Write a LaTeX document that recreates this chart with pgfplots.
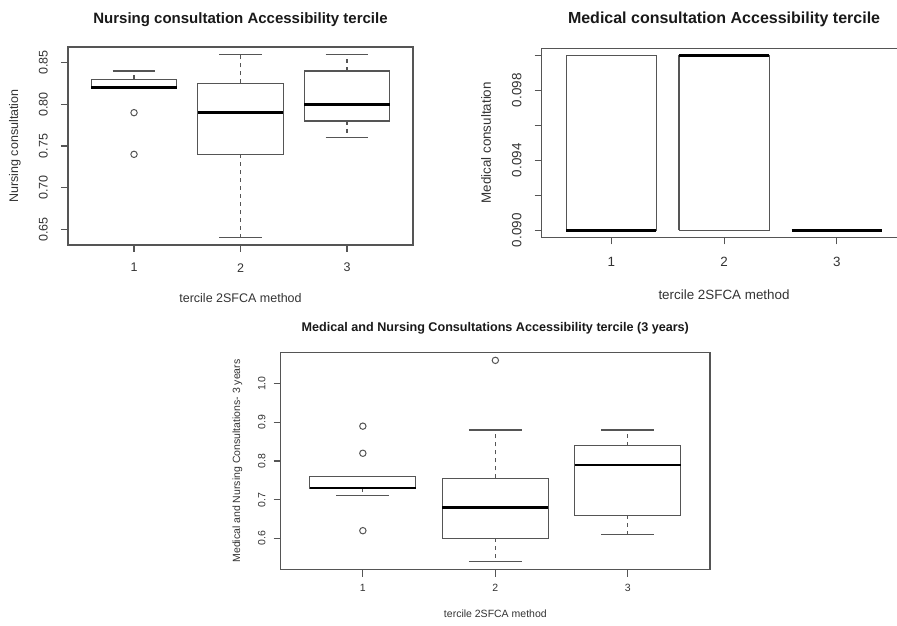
\documentclass[border=0pt]{standalone}
\usepackage{fontspec}
\setmainfont{Liberation Sans}
\usepackage{pgfplots}
\pgfplotsset{compat=1.18}
\usepgfplotslibrary{statistics}

\definecolor{boxgray}{HTML}{555555}
\definecolor{txtgray}{HTML}{333333}

\pgfplotsset{
  rbox/.style={
    scale only axis, anchor=south west,
    xmin=0.38, xmax=3.62, xtick={1,2,3}, xticklabels={1,2,3},
    tick pos=left, tick align=outside, major tick length=7pt,
    axis line style={boxgray, line width=1.1pt},
    tick style={boxgray, line width=1.1pt},
    xticklabel style={anchor=center, inner sep=0pt, text=txtgray},
    yticklabel style={rotate=90, anchor=center, inner sep=0pt, text=txtgray},
    title style={anchor=center, text=black!90},
    xlabel style={anchor=center, text=txtgray},
    ylabel style={anchor=center, text=txtgray},
    boxplot/draw direction=y,
    boxplot/box extend=0.8,
    boxplot/whisker extend=0.4,
    boxplot/every box/.style={draw=boxgray, line width=1.1pt},
    boxplot/every median/.style={draw=black, line width=2.6pt},
    boxplot/draw/lower whisker/.code={%
      \draw[boxgray, line width=1.1pt, dash pattern=on 4pt off 4pt]
        (boxplot box cs:\pgfplotsboxplotvalue{lower quartile},0.5) --
        (boxplot box cs:\pgfplotsboxplotvalue{lower whisker},0.5);
      \draw[boxgray, line width=1.1pt]
        (boxplot whisker cs:\pgfplotsboxplotvalue{lower whisker},0) --
        (boxplot whisker cs:\pgfplotsboxplotvalue{lower whisker},1);
    },
    boxplot/draw/upper whisker/.code={%
      \draw[boxgray, line width=1.1pt, dash pattern=on 4pt off 4pt]
        (boxplot box cs:\pgfplotsboxplotvalue{upper quartile},0.5) --
        (boxplot box cs:\pgfplotsboxplotvalue{upper whisker},0.5);
      \draw[boxgray, line width=1.1pt]
        (boxplot whisker cs:\pgfplotsboxplotvalue{upper whisker},0) --
        (boxplot whisker cs:\pgfplotsboxplotvalue{upper whisker},1);
    },
  },
  rplot/.style={boxgray, mark=o, mark size=3.2pt, mark options={line width=1pt, draw=boxgray}},
  rline/.style={boxgray, line width=1.1pt, mark=none},
  rmed/.style={black, line width=2.6pt, mark=none},
}

\begin{document}
\begin{tikzpicture}

% nursing consultation
\begin{axis}[rbox,
  at={(68pt,381pt)}, width=345pt, height=198pt,
  ymin=0.6312, ymax=0.8688,
  ytick={0.65,0.70,0.75,0.80,0.85},
  yticklabels={0.65,0.70,0.75,0.80,0.85},
  font=\fontsize{12.5}{15}\selectfont,
  xticklabel style={yshift=-15.7pt},
  yticklabel style={yshift=17.7pt},
  title={Nursing consultation Accessibility tercile},
  title style={at={([yshift=21pt]axis description cs:0.5,1)}, font=\bfseries\fontsize{15}{18}\selectfont},
  xlabel={tercile 2SFCA method},
  xlabel style={at={([yshift=-53pt]axis description cs:0.5,0)}},
  ylabel={Nursing consultation},
  ylabel style={at={([xshift=-53pt]axis description cs:0,0.5)}},
]
\addplot[rplot, boxplot prepared={draw position=1, lower whisker=0.82, lower quartile=0.82,
  median=0.82, upper quartile=0.83, upper whisker=0.84}] coordinates {(1,0.79) (1,0.74)};
\addplot[rplot, boxplot prepared={draw position=2, lower whisker=0.64, lower quartile=0.74,
  median=0.79, upper quartile=0.825, upper whisker=0.86}] coordinates {};
\addplot[rplot, boxplot prepared={draw position=3, lower whisker=0.76, lower quartile=0.78,
  median=0.80, upper quartile=0.84, upper whisker=0.86}] coordinates {};
\end{axis}

% medical consultation: every tercile is either 0.090 or 0.100
\begin{axis}[rbox,
  at={(541.5pt,388.7pt)}, width=365.1pt, height=189pt,
  ymin=0.0896, ymax=0.1004,
  ytick={0.090,0.092,0.094,0.096,0.098,0.100},
  yticklabels={0.090,,0.094,,0.098,},
  font=\fontsize{13.4}{16}\selectfont,
  xticklabel style={yshift=-17.4pt},
  yticklabel style={yshift=17.8pt},
  title={Medical consultation Accessibility tercile},
  title style={at={([yshift=22.9pt]axis description cs:0.5,1)}, font=\bfseries\fontsize{16}{19}\selectfont},
  xlabel={tercile 2SFCA method},
  xlabel style={at={([yshift=-57pt]axis description cs:0.5,0)}},
  ylabel={Medical consultation},
  ylabel style={at={([xshift=-55.5pt]axis description cs:0,0.5)}},
]
% tercile 1: box 0.090-0.100, median 0.090
\addplot[rline] coordinates {(0.6,0.090) (1.4,0.090) (1.4,0.100) (0.6,0.100) (0.6,0.090)};
\addplot[rmed] coordinates {(0.6,0.090) (1.4,0.090)};
% tercile 2: box 0.090-0.100, median 0.100
\addplot[rline] coordinates {(1.6,0.090) (2.4,0.090) (2.4,0.100) (1.6,0.100) (1.6,0.090)};
\addplot[rmed] coordinates {(1.6,0.100) (2.4,0.100)};
% tercile 3: all 0.090
\addplot[rmed] coordinates {(2.6,0.090) (3.4,0.090)};
\end{axis}

% both, 3 years
\begin{axis}[rbox,
  at={(280.7pt,56.3pt)}, width=429.3pt, height=217.4pt,
  ymin=0.5192, ymax=1.0808,
  ytick={0.6,0.7,0.8,0.9,1.0},
  yticklabels={0.6,0.7,0.8,0.9,1.0},
  font=\fontsize{10.5}{13}\selectfont,
  xticklabel style={yshift=-11.6pt},
  yticklabel style={yshift=12pt},
  title={Medical and Nursing Consultations Accessibility tercile (3 years)},
  title style={at={([yshift=17.9pt]axis description cs:0.5,1)}, font=\bfseries\fontsize{12.6}{15}\selectfont},
  xlabel={tercile 2SFCA method},
  xlabel style={at={([yshift=-44.3pt]axis description cs:0.5,0)}},
  ylabel={Medical and Nursing Consultations- 3 years},
  ylabel style={at={([xshift=-43.4pt]axis description cs:0,0.5)}},
]
\addplot[rplot, boxplot prepared={draw position=1, lower whisker=0.71, lower quartile=0.73,
  median=0.73, upper quartile=0.76, upper whisker=0.76}] coordinates {(1,0.89) (1,0.82) (1,0.62)};
\addplot[rplot, boxplot prepared={draw position=2, lower whisker=0.54, lower quartile=0.60,
  median=0.68, upper quartile=0.755, upper whisker=0.88}] coordinates {(2,1.06)};
\addplot[rplot, boxplot prepared={draw position=3, lower whisker=0.61, lower quartile=0.66,
  median=0.79, upper quartile=0.84, upper whisker=0.88}] coordinates {};
\end{axis}

\pgfresetboundingbox
\path[use as bounding box] (0pt,0pt) rectangle (897pt,626pt);
\end{tikzpicture}
\end{document}
